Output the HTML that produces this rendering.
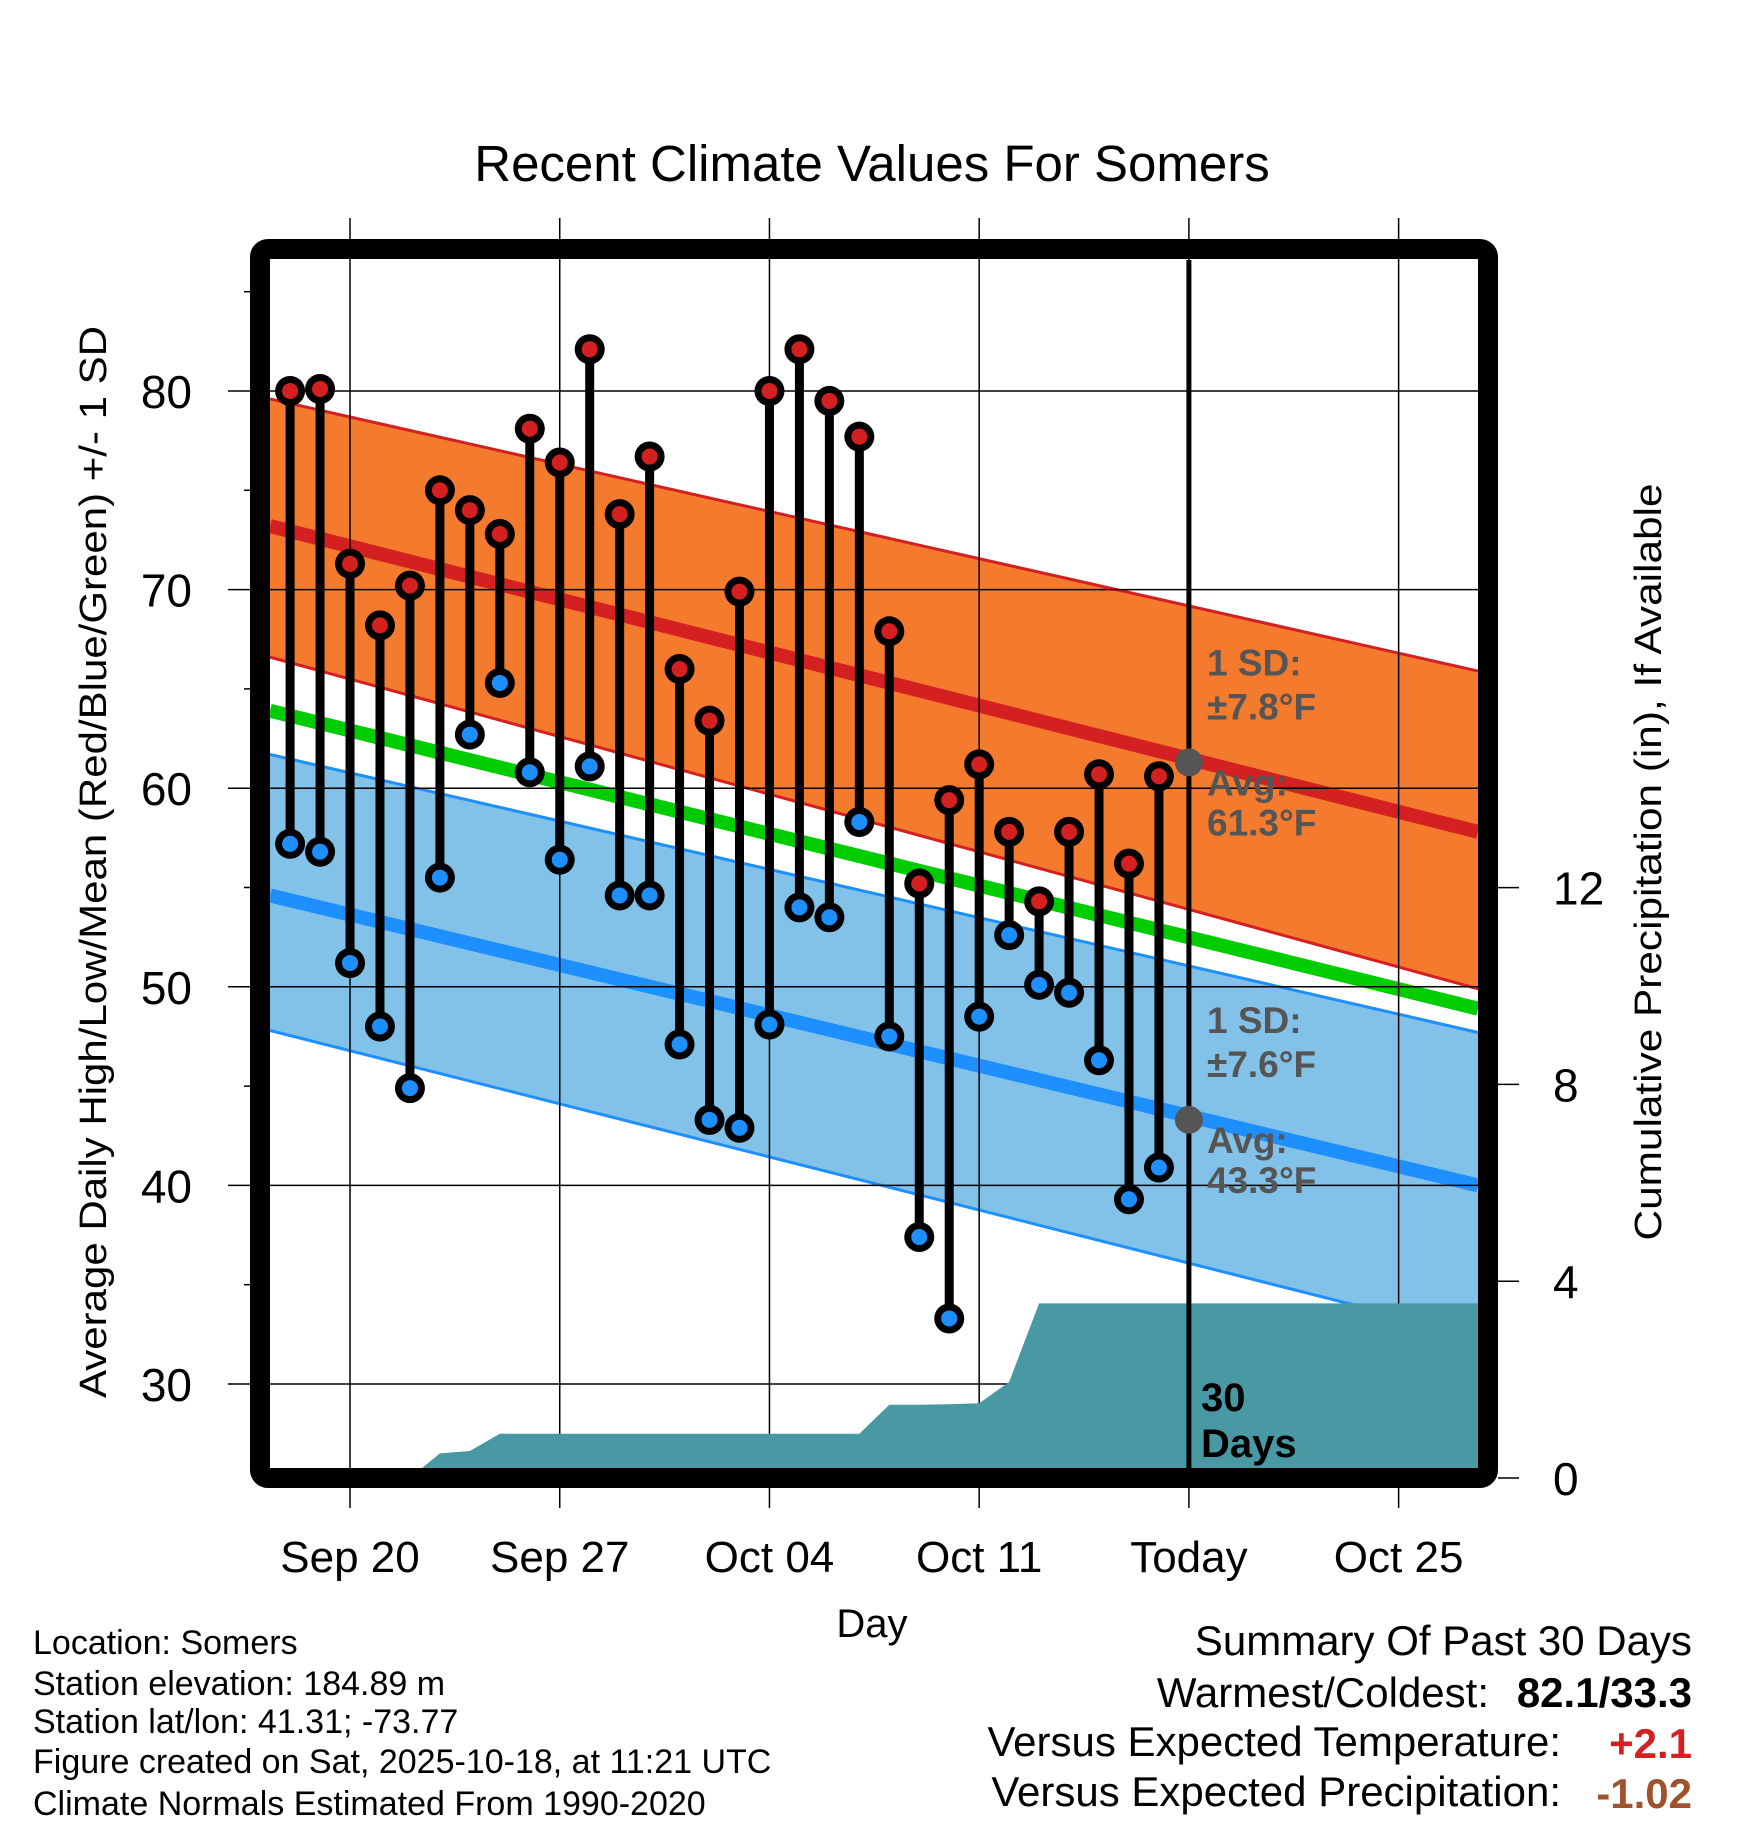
<!DOCTYPE html>
<html><head><meta charset="utf-8"><style>
html,body{margin:0;padding:0;background:#fff;}
svg{display:block;font-family:"Liberation Sans",Arial,sans-serif;}
</style></head><body>
<svg id="chart" width="1748" height="1828" viewBox="0 0 1748 1828" xmlns="http://www.w3.org/2000/svg">
<rect width="1748" height="1828" fill="#fff"/>
<g id="bands"></g>
<g id="grid"></g>
<g id="precip"></g>
<g id="stems"></g>
<g id="annot"></g>
<g id="frame"></g>
<g id="labels"></g>
</svg>
<script>
// ---- data ----
const days = ["Sep 18","Sep 19","Sep 20","Sep 21","Sep 22","Sep 23","Sep 24","Sep 25","Sep 26","Sep 27","Sep 28","Sep 29","Sep 30","Oct 01","Oct 02","Oct 03","Oct 04","Oct 05","Oct 06","Oct 07","Oct 08","Oct 09","Oct 10","Oct 11","Oct 12","Oct 13","Oct 14","Oct 15","Oct 16","Oct 17"];
const highs = [80.0,80.1,71.3,68.2,70.2,75.0,74.0,72.8,78.1,76.4,82.1,73.8,76.7,66.0,63.4,69.9,80.0,82.1,79.5,77.7,67.9,55.2,59.4,61.2,57.8,54.3,57.8,60.7,56.2,60.6];
const lows = [57.2,56.8,51.2,48.0,44.9,55.5,62.7,65.3,60.8,56.4,61.1,54.6,54.6,47.1,43.3,42.9,48.1,54.0,53.5,58.3,47.5,37.4,33.3,48.5,52.6,50.1,49.7,46.3,39.3,40.9];
const precipCum = [0,0,0,0,0,0.5,0.55,0.9,0.9,0.9,0.9,0.9,0.9,0.9,0.9,0.9,0.9,0.9,0.9,0.9,1.49,1.49,1.5,1.52,1.95,3.55,3.55,3.55,3.55,3.55,3.55];
// normals at left and right plot edges
const normHighTop = [79.6,65.9];
const normHigh = [73.2,57.8];
const normHighBot = [66.6,49.9];
const normMean = [63.9,48.9];
const normLowTop = [61.7,47.7];
const normLow = [54.6,40.0];
const normLowBot = [47.8,32.4];
const yTicks = [30,40,50,60,70,80];
const yMinor = [35,45,55,65,75,85];
const pTicks = [0,4,8,12];
const xTickDays = [2,9,16,23,30,37];
const xTickLabels = ["Sep 20","Sep 27","Oct 04","Oct 11","Today","Oct 25"];
const todayIdx = 30;
const avgHigh = 61.3, avgLow = 43.3, sdHigh = "±7.8", sdLow = "±7.6";

// ---- scales ----
const L=270,R=1478,T=260,B=1468;
const x = i => 290.1 + i*29.96;
const y = v => 391 + (80-v)*19.86;
const yp = p => 1478 - p*49.2;
const NS="http://www.w3.org/2000/svg";
function mk(tag, parent, attrs){const e=document.createElementNS(NS,tag);for(const k in attrs)e.setAttribute(k,attrs[k]);document.getElementById(parent).appendChild(e);return e;}

// bands
const bandDefs=[[normHighTop,normHighBot,"#F47A2E","band-high-sd"],[normLowTop,normLowBot,"#82C1E8","band-low-sd"]];
bandDefs.forEach(b=>{
  const p=mk("polygon","bands",{points:`${L},${y(b[0][0])} ${R},${y(b[0][1])} ${R},${y(b[1][1])} ${L},${y(b[1][0])}`,fill:b[2]});
  
  
});
const lineDefs=[[normHighTop,"#D42020",3,"high-sd-top"],[normHighBot,"#D42020",3,"high-sd-bottom"],[normLowTop,"#1E8FFF",3,"low-sd-top"],[normLowBot,"#1E8FFF",3,"low-sd-bottom"],[normHigh,"#D42020",14,"normal-high-line"],[normLow,"#1E8FFF",14,"normal-low-line"],[normMean,"#00CC00",14,"normal-mean-line"]];
lineDefs.forEach(d=>{
  const l=mk("line","bands",{x1:L,y1:y(d[0][0]),x2:R,y2:y(d[0][1]),stroke:d[1],"stroke-width":d[2]});
  
  
});

// grid
yTicks.forEach(v=>{
  const g=mk("line","grid",{x1:228,y1:y(v),x2:R,y2:y(v),stroke:"#000","stroke-width":1.5});
  
  
  const t=mk("text","labels",{x:192,y:y(v)+17,"text-anchor":"end","font-size":46});
  t.textContent=v;
  
  
});
yMinor.forEach(v=>{
  const g=mk("line","grid",{x1:244,y1:y(v),x2:252,y2:y(v),stroke:"#000","stroke-width":1.5});
  
  
});
xTickDays.forEach((d,i)=>{
  const g=mk("line","grid",{x1:x(d),y1:218,x2:x(d),y2:1508,stroke:"#000","stroke-width":1.5});
  
  
  const t=mk("text","labels",{x:x(d),y:1572,"text-anchor":"middle","font-size":44});
  t.textContent=xTickLabels[i];
  
  
});
pTicks.forEach(p=>{
  const g=mk("line","grid",{x1:1498,y1:yp(p),x2:1519,y2:yp(p),stroke:"#000","stroke-width":1.5});
  
  
  const t=mk("text","labels",{x:1553,y:yp(p)+17,"font-size":46});
  t.textContent=p;
  
  
});

// precip area
let pts=`${L},${B} `;
precipCum.forEach((p,i)=>{pts+=`${x(i)},${yp(p)} `;});
pts+=`${R},${yp(precipCum[precipCum.length-1])} ${R},${B}`;
const pa=mk("polygon","precip",{points:pts,fill:"#4899A3"});



// stems and markers
highs.forEach((h,i)=>{
  const s=mk("line","stems",{x1:x(i),y1:y(h),x2:x(i),y2:y(lows[i]),stroke:"#000","stroke-width":9});
  
  
});
highs.forEach((h,i)=>{
  [[h,"#D42020","high-marker"],[lows[i],"#1E8FFF","low-marker"]].forEach(m=>{
    const o=mk("circle","stems",{cx:x(i),cy:y(m[0]),r:15,fill:"#000"});
    
    
    mk("circle","stems",{cx:x(i),cy:y(m[0]),r:8,fill:m[1]});
  });
});

// annotations
const tx=x(todayIdx);
const tl=mk("line","annot",{x1:tx,y1:T,x2:tx,y2:B,stroke:"#000","stroke-width":5});


[[avgHigh,sdHigh,"high"],[avgLow,sdLow,"low"]].forEach(a=>{
  const cy=y(a[0]);
  const c=mk("circle","annot",{cx:tx,cy:cy,r:14,fill:"#555"});
  
  
  const lines=[["1 SD:",-87],[a[1]+"°F",-43],["Avg:",33],[a[0].toFixed(1)+"°F",73]];
  lines.forEach(l=>{
    const t=mk("text","annot",{x:1207,y:cy+l[1],"font-size":37,"font-weight":"bold",fill:"#555"});
    t.textContent=l[0];
    
    
  });
});
</script>
<svg style="position:absolute;left:0;top:0" width="1748" height="1828" viewBox="0 0 1748 1828" xmlns="http://www.w3.org/2000/svg" font-family="Liberation Sans, Arial, sans-serif">
<rect x="260" y="249" width="1228" height="1229" rx="8" fill="none" stroke="#000" stroke-width="20"/>
<text x="1201" y="1411" font-size="40" font-weight="bold">30</text>
<text x="1201" y="1457" font-size="40" font-weight="bold">Days</text>
<text x="872" y="181" font-size="51" text-anchor="middle">Recent Climate Values For Somers</text>
<text x="872" y="1637" font-size="40" text-anchor="middle">Day</text>
<text transform="translate(106,862) rotate(-90)" font-size="38" text-anchor="middle" textLength="1072" lengthAdjust="spacingAndGlyphs">Average Daily High/Low/Mean (Red/Blue/Green) +/- 1 SD</text>
<text transform="translate(1661,862) rotate(-90)" font-size="38" text-anchor="middle" textLength="757" lengthAdjust="spacingAndGlyphs">Cumulative Precipitation (in), If Available</text>
<g font-size="34">
<text x="33" y="1654">Location: Somers</text>
<text x="33" y="1695">Station elevation: 184.89 m</text>
<text x="33" y="1733">Station lat/lon: 41.31; -73.77</text>
<text x="33" y="1773">Figure created on Sat, 2025-10-18, at 11:21 UTC</text>
<text x="33" y="1815">Climate Normals Estimated From 1990-2020</text>
</g>
<g font-size="42">
<text x="1692" y="1655" text-anchor="end">Summary Of Past 30 Days</text>
<text x="1489" y="1707" text-anchor="end">Warmest/Coldest:</text>
<text x="1692" y="1707" text-anchor="end" font-weight="bold">82.1/33.3</text>
<text x="1561" y="1756" text-anchor="end">Versus Expected Temperature:</text>
<text x="1692" y="1758" text-anchor="end" font-weight="bold" fill="#D42020">+2.1</text>
<text x="1561" y="1806" text-anchor="end">Versus Expected Precipitation:</text>
<text x="1692" y="1808" text-anchor="end" font-weight="bold" fill="#A0522D">-1.02</text>
</g>
</svg>
</body></html>
